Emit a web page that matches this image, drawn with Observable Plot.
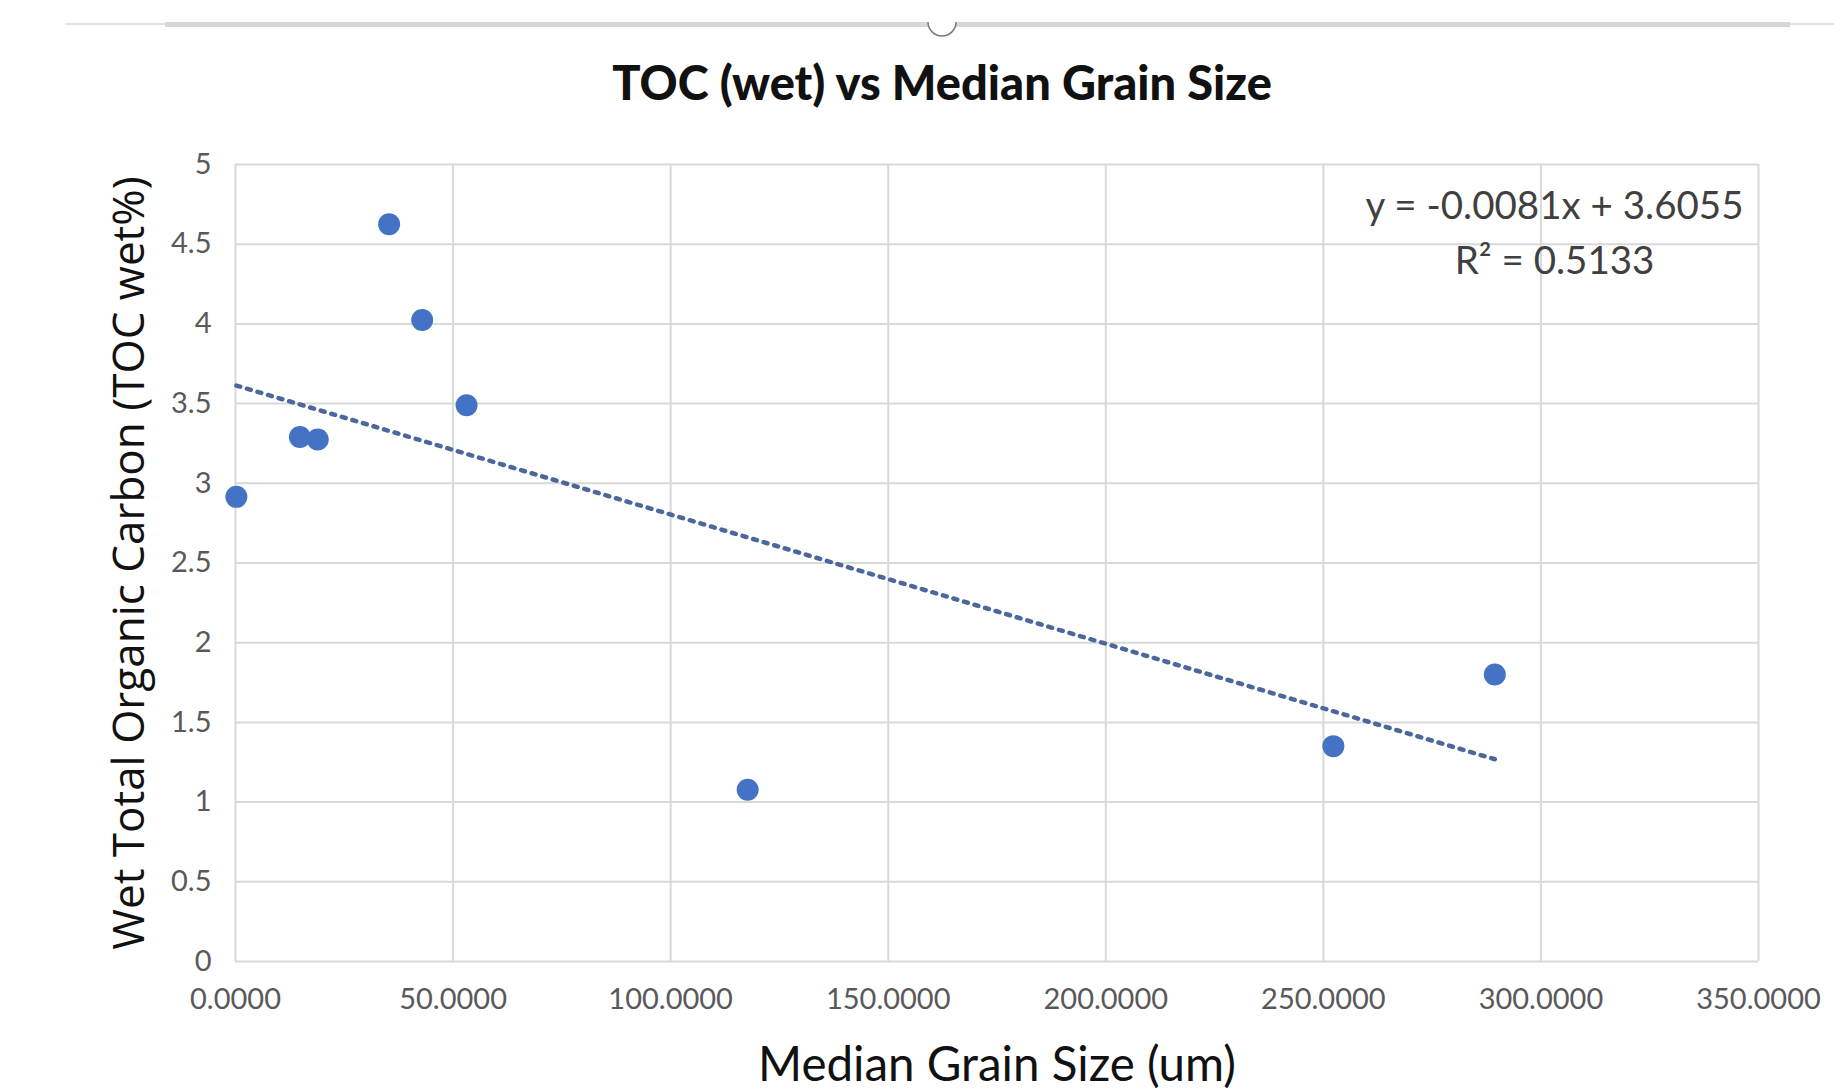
<!DOCTYPE html>
<html>
<head>
<meta charset="utf-8">
<script src="https://cdn.jsdelivr.net/npm/d3@7"></script>
<script src="https://cdn.jsdelivr.net/npm/@observablehq/plot@0.6"></script>
<style>
  html, body { margin: 0; padding: 0; background: #fff; overflow: hidden; }
  #header { position: relative; width: 1845px; height: 120px; }
  #title { position: absolute; left: 0; width: 1884px; top: 52px; text-align: center;
           font-family: Lato, sans-serif; font-weight: 900; font-size: 47px; line-height: 60px; color: #111; }
  #chart svg { display: block; }
</style>
</head>
<body>
<div id="header">
  <svg width="1845" height="60" style="position:absolute;left:0;top:0">
    <line x1="65" x2="165" y1="24" y2="24" stroke="#e2e2e2" stroke-width="2"></line>
    <line x1="165" x2="1790" y1="24.5" y2="24.5" stroke="#d7d7d7" stroke-width="5"></line>
    <line x1="1790" x2="1834" y1="24" y2="24" stroke="#e2e2e2" stroke-width="2"></line>
    <path d="M 928 22 A 14 14 0 0 0 956 22" fill="#fff" stroke="#7a7a7a" stroke-width="1.5"></path>
  </svg>
  <div id="title">TOC (wet) vs Median Grain Size</div>
</div>
<div id="chart"></div>
<script>
// Data
const grainSize = [0.2, 14.8, 18.9, 35.3, 42.9, 53.1, 117.7, 252.3, 289.4];
const tocWet    = [2.915, 3.291, 3.275, 4.625, 4.024, 3.490, 1.078, 1.351, 1.80];
const xTicks = [0, 50, 100, 150, 200, 250, 300, 350];
const yTicks = [0, 0.5, 1, 1.5, 2, 2.5, 3, 3.5, 4, 4.5, 5];
const xLabel = "Median Grain Size (um)";
const yLabel = "Wet Total Organic Carbon (TOC wet%)";
const equationText = "y = -0.0081x + 3.6055";
const r2Text = "R\u00B2 = 0.5133";

const points = grainSize.map((g, i) => ({grain: g, toc: tocWet[i]}));

const chart = Plot.plot({
  width: 1845,
  height: 972,
  marginLeft: 235,
  marginRight: 87,
  marginTop: 44,
  marginBottom: 131,
  style: {fontFamily: "Lato, sans-serif", background: "#fff"},
  x: {domain: [0, 350]},
  y: {domain: [0, 5]},
  marks: [
    Plot.gridX(xTicks, {stroke: "#d9d9d9", strokeOpacity: 1, strokeWidth: 2}),
    Plot.gridY(yTicks, {stroke: "#d9d9d9", strokeOpacity: 1, strokeWidth: 2}),
    Plot.axisX({ticks: xTicks, tickFormat: d3.format(".4f"), tickSize: 0, tickPadding: 27,
                fontSize: 29, fill: "#595959", label: null}),
    Plot.axisY({ticks: yTicks, tickFormat: d => String(d), tickSize: 0, tickPadding: 24,
                fontSize: 29, fill: "#595959", label: null}),
    Plot.linearRegressionY(points, {x: "grain", y: "toc", ci: 0, stroke: "#4c679c",
                strokeWidth: 4.5, strokeDasharray: "4,7"}),
    Plot.dot(points, {x: "grain", y: "toc", r: 11, fill: "#4472C4", stroke: "none"}),
    Plot.text([equationText], {frameAnchor: "top-right", dx: -204, dy: 42, textAnchor: "middle",
                lineAnchor: "middle", fontSize: 38.5, fill: "#404040"}),
    Plot.text([r2Text], {frameAnchor: "top-right", dx: -204, dy: 97, textAnchor: "middle",
                lineAnchor: "middle", fontSize: 38.5, fill: "#404040"}),
    Plot.text([xLabel], {frameAnchor: "bottom", dy: 104, textAnchor: "middle", lineAnchor: "middle",
                fontSize: 47.5, fill: "#111"}),
    Plot.text([yLabel], {frameAnchor: "left", dx: -106, rotate: -90, textAnchor: "middle",
                lineAnchor: "middle", fontSize: 44, fontFamily: "Open Sans", fill: "#111"})
  ]
});
document.getElementById("chart").appendChild(chart);
</script>
</body>
</html>
